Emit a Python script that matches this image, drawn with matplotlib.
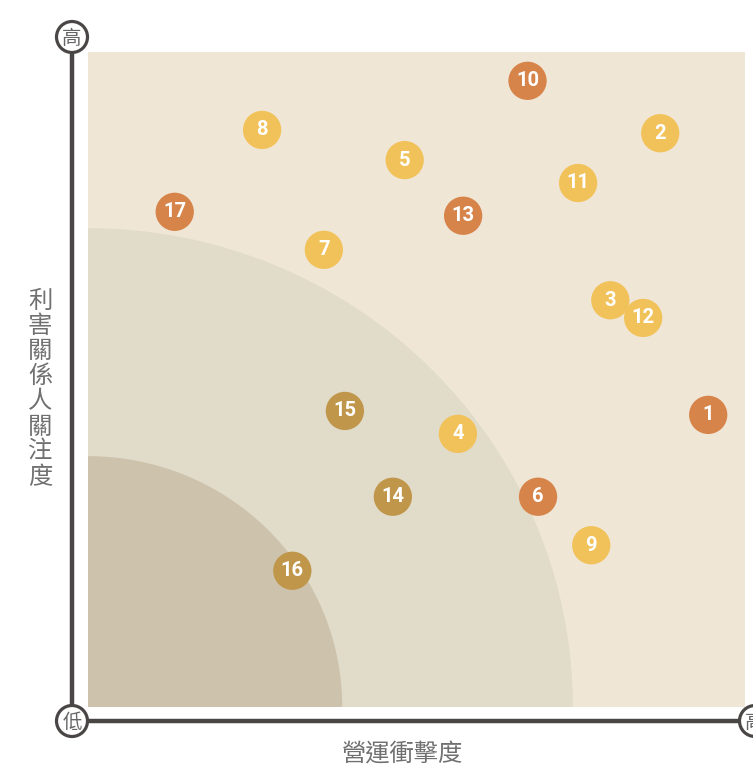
import matplotlib
matplotlib.use("Agg")
import matplotlib.pyplot as plt
from matplotlib.patches import Ellipse, Circle

plt.rcParams['font.family'] = ['Noto Sans CJK TC', 'DejaVu Sans']

# Data (impact score x, stakeholder concern y on 0-10 scale)
labels = ["1", "2", "3", "4", "5", "6", "7", "8", "9", "10",
          "11", "12", "13", "14", "15", "16", "17"]
impact = [9.44, 8.71, 7.95, 5.63, 4.82, 6.85, 3.59, 2.65, 7.66, 6.69,
          7.46, 8.45, 5.71, 4.64, 3.91, 3.11, 1.32]
concern = [4.46, 8.76, 6.21, 4.17, 8.35, 3.21, 6.98, 8.81, 2.47, 9.56,
           8.00, 5.94, 7.50, 3.21, 4.52, 2.08, 7.56]
groups = ["o", "y", "y", "y", "y", "o", "y", "y", "y", "o",
          "y", "y", "o", "g", "g", "g", "o"]
group_colors = {"o": "#D6844A", "y": "#F2C25A", "g": "#C0964A"}
zone_radii = [(7.38, 7.31), (3.87, 3.83)]
zone_colors = ["#E1DBC9", "#CDC2AC"]
x_label = "營運衝擊度"
y_label = "利害關係人關注度"
low_text = "低"
high_text = "高"

W, H = 753, 767
fig = plt.figure(figsize=(W / 100, H / 100), dpi=100)

# overlay for frame decorations in pixel coords
ov = fig.add_axes([0, 0, 1, 1])
ov.set_xlim(0, W)
ov.set_ylim(H, 0)
ov.axis("off")

ax = fig.add_axes([88 / W, 60 / H, 657 / W, 655 / H])
ax.set_xlim(0, 10)
ax.set_ylim(0, 10)
ax.set_facecolor("#F0E6D6")
for s in ax.spines.values():
    s.set_visible(False)
ax.set_xticks([])
ax.set_yticks([])

for (rx, ry), c in zip(zone_radii, zone_colors):
    ax.add_patch(Ellipse((0, 0), 2 * rx, 2 * ry, facecolor=c, edgecolor="none", zorder=1))

cols = [group_colors[g] for g in groups]
ax.scatter(impact, concern, s=760, c=cols, edgecolors="none", zorder=3, clip_on=False)
for lab, x, y in zip(labels, impact, concern):
    ax.text(x, y, lab, ha="center", va="center", color="white", fontsize=14.5,
            fontweight="bold", family=["Roboto", "DejaVu Sans"], zorder=4)

# axis lines
axis_col = "#4A4646"
ov.plot([72, 72], [37, 721], color=axis_col, lw=3.2, solid_capstyle="butt", zorder=2)
ov.plot([72, 755], [721, 721], color=axis_col, lw=3.2, solid_capstyle="butt", zorder=2)
for (cx, cy), t in [((72, 37), high_text), ((72, 721), low_text), ((755, 721), high_text)]:
    ov.add_patch(Circle((cx, cy), 15.5, facecolor="white", edgecolor=axis_col, lw=2.3, zorder=3))
    ov.text(cx, cy + 1, t, ha="center", va="center", fontsize=14, color="#666666", zorder=4)

ov.text(403, 754, x_label, ha="center", va="center", fontsize=17.5, color="#707070")
ov.text(40, 389, "\n".join(y_label), ha="center", va="center", fontsize=17.5,
        color="#707070", linespacing=0.96)

fig.savefig("out.png", dpi=100)
